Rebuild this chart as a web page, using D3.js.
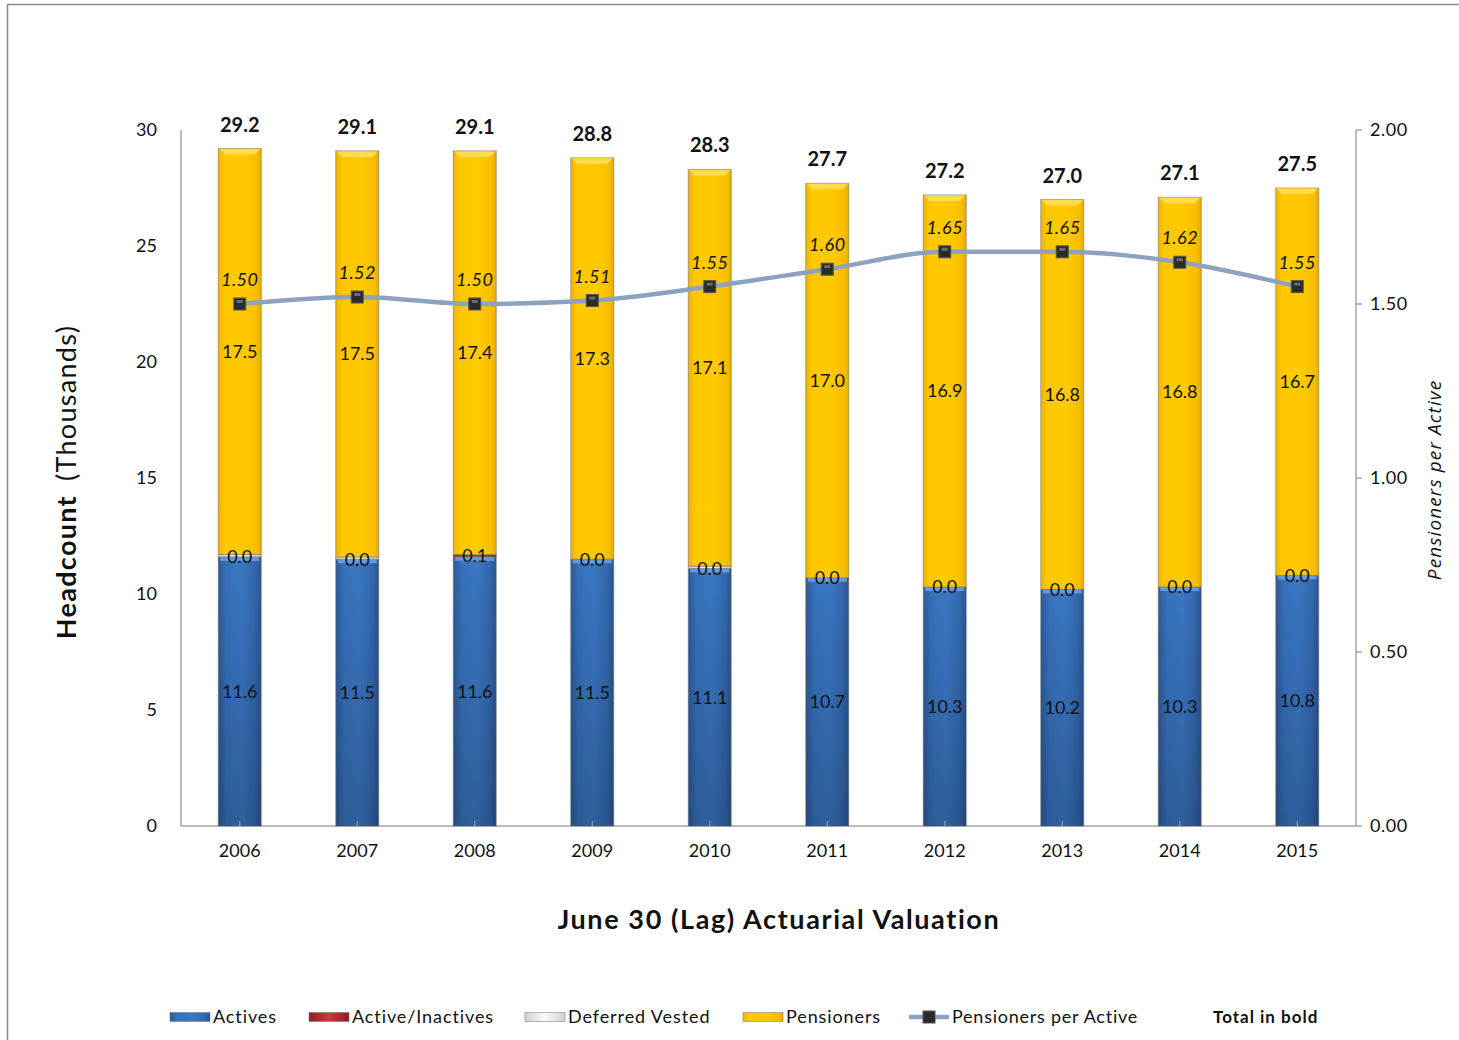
<!DOCTYPE html>
<html>
<head>
<meta charset="utf-8">
<script src="https://cdn.jsdelivr.net/npm/d3@7"></script>
<style>
  html, body { margin: 0; padding: 0; background: #fff; }
  svg { display: block; }
  text { font-family: "Lato", "Noto Sans", sans-serif; fill: #111; }
</style>
</head>
<body>
<svg id="chart" width="1459" height="1040"></svg>
<script>
// Valuation years
const years = ["2006","2007","2008","2009","2010","2011","2012","2013","2014","2015"];
// Headcounts in thousands
const actives        = [11.6, 11.5, 11.6, 11.5, 11.1, 10.7, 10.3, 10.2, 10.3, 10.8];
const activeInactive = [0.0, 0.0, 0.1, 0.0, 0.0, 0.0, 0.0, 0.0, 0.0, 0.0];
const deferredVested = [0.1, 0.1, 0.0, 0.0, 0.1, 0.0, 0.0, 0.0, 0.0, 0.0];
const pensioners     = [17.5, 17.5, 17.4, 17.3, 17.1, 17.0, 16.9, 16.8, 16.8, 16.7];
const totals         = [29.2, 29.1, 29.1, 28.8, 28.3, 27.7, 27.2, 27.0, 27.1, 27.5];
// Pensioners per active ratio
const ratio          = [1.50, 1.52, 1.50, 1.51, 1.55, 1.60, 1.65, 1.65, 1.62, 1.55];
// Axis ticks
const leftTicks  = [0, 5, 10, 15, 20, 25, 30];
const rightTicks = [0, 0.5, 1.0, 1.5, 2.0];

const svg = d3.select("#chart");
const defs = svg.append("defs");

// frame
svg.append("rect").attr("x", 7.5).attr("y", 4.5).attr("width", 1500).attr("height", 1100)
  .attr("fill", "none").attr("stroke", "#8c8c8c").attr("stroke-width", 1.5);

const plotL = 181, plotR = 1356, plotT = 130, plotB = 826;

const x = d3.scaleBand().domain(years).range([plotL, plotR]).paddingInner(0.634).paddingOuter(0.317);
const y = d3.scaleLinear().domain([0, 30]).range([plotB, plotT]);
const y2 = d3.scaleLinear().domain([0, 2]).range([plotB, plotT]);

// gradients
function hGrad(id, stops) {
  const g = defs.append("linearGradient").attr("id", id).attr("x1", 0).attr("x2", 1).attr("y1", 0).attr("y2", 0);
  stops.forEach(s => g.append("stop").attr("offset", s[0]).attr("stop-color", s[1]));
}
hGrad("gBlue",   [[0, "#2c5a98"], [0.2, "#3772bd"], [0.55, "#3a77c4"], [0.85, "#3468af"], [1, "#2a5590"]]);
hGrad("gRed",    [[0, "#8e1f1f"], [0.5, "#c83a3a"], [1, "#8e1f1f"]]);
hGrad("gWhite",  [[0, "#cfcfcf"], [0.5, "#fbfbfb"], [1, "#cfcfcf"]]);
hGrad("gYellow", [[0, "#f0b300"], [0.15, "#ffc800"], [0.6, "#ffca00"], [0.9, "#f7bd00"], [1, "#e8a900"]]);
const vs = defs.append("linearGradient").attr("id", "gShade").attr("x1", 0).attr("x2", 0).attr("y1", 0).attr("y2", 1);
vs.append("stop").attr("offset", 0).attr("stop-color", "#000").attr("stop-opacity", 0);
vs.append("stop").attr("offset", 1).attr("stop-color", "#000").attr("stop-opacity", 0.2);

const seriesDefs = [
  { key: "actives", name: "Actives", vals: actives, fill: "url(#gBlue)" },
  { key: "inactive", name: "Active/Inactives", vals: activeInactive, fill: "url(#gRed)" },
  { key: "deferred", name: "Deferred Vested", vals: deferredVested, fill: "url(#gWhite)" },
  { key: "pensioners", name: "Pensioners", vals: pensioners, fill: "url(#gYellow)" }
];
const rows = years.map((yr, i) => {
  const r = { year: yr };
  seriesDefs.forEach(s => r[s.key] = s.vals[i]);
  return r;
});
const stacked = d3.stack().keys(seriesDefs.map(s => s.key))(rows);

// axes lines
svg.append("line").attr("x1", plotL).attr("x2", plotL).attr("y1", plotT).attr("y2", plotB)
  .attr("stroke", "#a6a6a6").attr("stroke-width", 1.5);
svg.append("line").attr("x1", plotL).attr("x2", plotR).attr("y1", plotB).attr("y2", plotB)
  .attr("stroke", "#a6a6a6").attr("stroke-width", 1.5);

// bars
const bw = x.bandwidth();
stacked.forEach((layer, li) => {
  const s = seriesDefs[li];
  const g = svg.append("g");
  layer.forEach((d, i) => {
    const y0 = y(d[0]), y1 = y(d[1]);
    const h = y0 - y1;
    if (h <= 0) return;
    const xx = x(years[i]);
    g.append("rect").attr("x", xx).attr("y", y1).attr("width", bw).attr("height", h)
      .attr("fill", s.fill).attr("stroke", "rgba(110,110,110,0.55)").attr("stroke-width", 1);
    if (s.key === "actives") {
      g.append("rect").attr("x", xx + 0.5).attr("y", y1).attr("width", bw - 1).attr("height", h)
        .attr("fill", "url(#gShade)");
      g.append("rect").attr("x", xx + 2).attr("y", y1).attr("width", bw - 4).attr("height", 4)
        .attr("fill", "#6fa6e6").attr("opacity", 0.8);
    }
    if (s.key === "pensioners") {
      // bevelled top face
      g.append("path")
        .attr("d", `M${xx + 1},${y1 + 0.5} L${xx + bw - 1},${y1 + 0.5} L${xx + bw - 6},${y1 + 6} L${xx + 6},${y1 + 6} Z`)
        .attr("fill", "#ffdc4d");
    }
  });
});

// bottom ticks at category centres
years.forEach(yr => {
  const cx = x(yr) + bw / 2;
  svg.append("line").attr("x1", cx).attr("x2", cx).attr("y1", plotB).attr("y2", plotB - 5)
    .attr("stroke", "#a6a6a6").attr("stroke-width", 1);
});

// right axis
svg.append("line").attr("x1", plotR).attr("x2", plotR).attr("y1", plotT).attr("y2", plotB)
  .attr("stroke", "#a6a6a6").attr("stroke-width", 1.5);
rightTicks.forEach(t => {
  svg.append("line").attr("x1", plotR).attr("x2", plotR + 6).attr("y1", y2(t)).attr("y2", y2(t))
    .attr("stroke", "#a6a6a6").attr("stroke-width", 1.5);
  svg.append("text").attr("x", plotR + 14).attr("y", y2(t)).attr("dy", "0.35em")
    .attr("font-size", 18).attr("letter-spacing", 0.5).text(d3.format(".2f")(t));
});

// left tick labels
leftTicks.forEach(t => {
  svg.append("text").attr("x", 157).attr("y", y(t)).attr("dy", "0.35em").attr("text-anchor", "end")
    .attr("font-size", 18).text(t);
});

// category labels
years.forEach(yr => {
  svg.append("text").attr("x", x(yr) + bw / 2).attr("y", 851).attr("dy", "0.35em").attr("text-anchor", "middle")
    .attr("font-size", 18).text(yr);
});

// segment labels
years.forEach((yr, i) => {
  const cx = x(yr) + bw / 2;
  const a = actives[i];
  svg.append("text").attr("x", cx).attr("y", y(a / 2)).attr("dy", "0.35em").attr("text-anchor", "middle")
    .attr("font-size", 18).text(d3.format(".1f")(a));
  svg.append("text").attr("x", cx).attr("y", y(a + activeInactive[i] / 2)).attr("dy", "0.35em").attr("text-anchor", "middle")
    .attr("font-size", 18).text(d3.format(".1f")(activeInactive[i]));
  const pBase = a + activeInactive[i] + deferredVested[i];
  svg.append("text").attr("x", cx).attr("y", y(pBase + pensioners[i] / 2)).attr("dy", "0.35em").attr("text-anchor", "middle")
    .attr("font-size", 18).text(d3.format(".1f")(pensioners[i]));
  svg.append("text").attr("x", cx).attr("y", y(totals[i]) - 17).attr("text-anchor", "middle")
    .attr("font-size", 20).attr("font-weight", "bold").text(d3.format(".1f")(totals[i]));
});

// ratio line
const line = d3.line().x((d, i) => x(years[i]) + bw / 2).y(d => y2(d)).curve(d3.curveMonotoneX);
svg.append("path").datum(ratio).attr("d", line).attr("fill", "none")
  .attr("stroke", "#8ca2bf").attr("stroke-width", 4.5);
ratio.forEach((r, i) => {
  const cx = x(years[i]) + bw / 2, cy = y2(r);
  svg.append("rect").attr("x", cx - 6).attr("y", cy - 6).attr("width", 12).attr("height", 12)
    .attr("fill", "#2b2b2b").attr("stroke", "#555").attr("stroke-width", 1);
  svg.append("rect").attr("x", cx - 3).attr("y", cy - 4).attr("width", 6).attr("height", 3)
    .attr("fill", "#6b6b6b");
  svg.append("text").attr("x", cx).attr("y", cy - 18).attr("text-anchor", "middle")
    .attr("font-size", 18).attr("font-style", "italic").attr("letter-spacing", 0.5).text(d3.format(".2f")(r));
});

// axis titles
const lt = svg.append("text").attr("transform", "translate(76,482) rotate(-90)").attr("text-anchor", "middle")
  .attr("font-size", 27).attr("letter-spacing", 1.3);
lt.append("tspan").attr("font-weight", "bold").text("Headcount");
lt.append("tspan").attr("dx", 14).text("(Thousands)");

svg.append("text").attr("transform", "translate(1441,480) rotate(-90)").attr("text-anchor", "middle")
  .attr("font-size", 19).attr("font-style", "italic").attr("letter-spacing", 1.1)
  .style("font-family", "'Open Sans', sans-serif")
  .text("Pensioners per Active");

svg.append("text").attr("x", 779).attr("y", 920).attr("dy", "0.35em").attr("text-anchor", "middle")
  .attr("font-size", 27).attr("font-weight", "bold").attr("letter-spacing", 1.6)
  .text("June 30 (Lag) Actuarial Valuation");

// legend
const ly = 1017;
const legendItems = [
  { x: 170, fill: "url(#gBlue)", label: "Actives" },
  { x: 309, fill: "url(#gRed)", label: "Active/Inactives" },
  { x: 525, fill: "url(#gWhite)", label: "Deferred Vested" },
  { x: 743, fill: "url(#gYellow)", label: "Pensioners" }
];
legendItems.forEach(it => {
  svg.append("rect").attr("x", it.x).attr("y", ly - 4.5).attr("width", 40).attr("height", 9)
    .attr("fill", it.fill).attr("stroke", "rgba(110,110,110,0.6)").attr("stroke-width", 0.8);
  svg.append("text").attr("x", it.x + 43).attr("y", ly).attr("dy", "0.35em").attr("font-size", 18)
    .attr("letter-spacing", 0.9).text(it.label);
});
svg.append("line").attr("x1", 909).attr("x2", 949).attr("y1", ly).attr("y2", ly)
  .attr("stroke", "#8ca2bf").attr("stroke-width", 4.5);
svg.append("rect").attr("x", 923).attr("y", ly - 6).attr("width", 12).attr("height", 12)
  .attr("fill", "#2b2b2b").attr("stroke", "#555");
svg.append("text").attr("x", 952).attr("y", ly).attr("dy", "0.35em").attr("font-size", 18)
  .attr("letter-spacing", 0.75).text("Pensioners per Active");
svg.append("text").attr("x", 1213).attr("y", ly).attr("dy", "0.35em").attr("font-size", 17).attr("font-weight", "bold")
  .attr("letter-spacing", 1).text("Total in bold");
</script>
</body>
</html>
